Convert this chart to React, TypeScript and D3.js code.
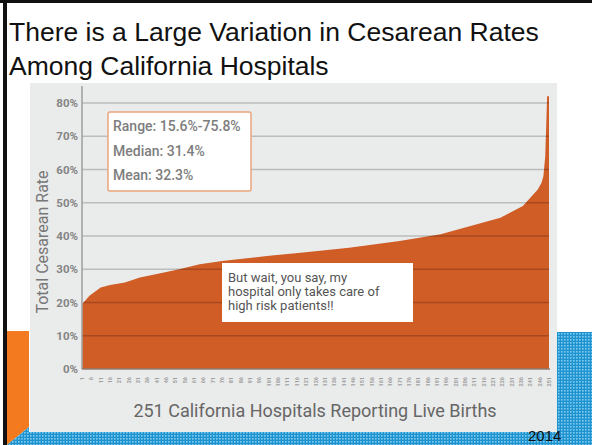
import React from "react";
import * as d3 from "d3";

const hospitalIndex = [1, 5, 11, 16, 24, 32, 43, 53, 64, 76, 100, 118, 144, 171, 193, 209, 225, 237, 241, 245, 247, 248, 249, 250, 251];
const cesareanRate = [19.5, 22, 24.5, 25.3, 26, 27.5, 28.8, 30, 31.5, 32.5, 34, 35, 36.5, 38.5, 40.5, 43, 45.5, 49, 51.5, 54, 56, 58, 64, 82, 82];

const yTicks = [0, 10, 20, 30, 40, 50, 60, 70, 80];
const xTickLabels = d3.range(1, 252, 5).map(String);

const titleLines = ["There is a Large Variation in Cesarean Rates", "Among California Hospitals"];
const statsLines = ["Range: 15.6%-75.8%", "Median: 31.4%", "Mean: 32.3%"];
const noteLines = ["But wait, you say, my", "hospital only takes care of", "high risk patients!!"];
const xTitle = "251 California Hospitals Reporting Live Births";
const yTitle = "Total Cesarean Rate";
const yearLabel = "2014";

export default function App() {
  const W = 592;
  const H = 445;
  const x = d3.scaleLinear().domain([1, 251]).range([82, 549]);
  const y = d3.scaleLinear().domain([0, 80]).range([369, 103]);
  const pts = hospitalIndex.map((h, i) => ({ h, v: cesareanRate[i] }));
  const area = d3
    .area<{ h: number; v: number }>()
    .x((d) => x(d.h))
    .y0(y(0))
    .y1((d) => y(d.v));

  return (
    <svg
      width={W}
      height={H}
      style={{ position: "absolute", left: 0, top: 0, display: "block" }}
      xmlns="http://www.w3.org/2000/svg"
    >
      <defs>
        <pattern id="dots" width="3" height="3" patternUnits="userSpaceOnUse">
          <rect width="3" height="3" fill="#1f93cf" />
          <rect width="1.6" height="1.6" fill="#7fcaef" />
        </pattern>
      </defs>
      <rect width={W} height={H} fill="#ffffff" />
      {/* slide frame */}
      <rect x={0} y={0} width={W} height={3} fill="#111" />
      <rect x={3} y={0} width={4} height={H} fill="#111" />
      {/* decorative shapes */}
      <polygon points="7,331 29,331 29,427 7,445" fill="#f47a20" />
      <polygon points="7,445 29,427 29,432 557,432 557,332 592,332 592,445" fill="url(#dots)" />
      {/* gray chart panel */}
      <rect x={30} y={83} width={527} height={349} fill="#eaebeb" />

      {/* title */}
      <text fontFamily="'Liberation Sans', Arial, sans-serif" fontSize={26.5} fill="#111">
        {titleLines.map((t, i) => (
          <tspan key={i} x={9} y={41 + i * 34}>
            {t}
          </tspan>
        ))}
      </text>

      {/* area */}
      <path d={area(pts) || ""} fill="#d05c26" />

      {/* gridlines */}
      {yTicks
        .filter((t) => t > 0)
        .map((t) => (
          <line key={t} x1={82} x2={549} y1={y(t)} y2={y(t)} stroke="#000" strokeOpacity={0.2} strokeWidth={1.6} />
        ))}

      {/* axes */}
      <line x1={82} x2={82} y1={86} y2={y(0)} stroke="#a3a3a3" strokeWidth={1.6} />
      <line x1={82} x2={550} y1={y(0)} y2={y(0)} stroke="#8e7c72" strokeWidth={1.6} />

      {/* y tick labels */}
      {yTicks.map((t) => (
        <text
          key={t}
          x={78}
          y={y(t)}
          dy="0.35em"
          textAnchor="end"
          fontFamily="Roboto, sans-serif"
          fontWeight={700}
          fontSize={11.5}
          fill="#858585"
        >
          {t}%
        </text>
      ))}

      {/* x tick labels (tiny) */}
      {xTickLabels.map((lab) => {
        const px = x(+lab);
        return (
          <text
            key={lab}
            transform={`translate(${px + 2},377) rotate(-90)`}
            textAnchor="end"
            fontFamily="Roboto, sans-serif"
            fontWeight={700}
            fontSize={5.5}
            fill="#a0a0a0"
          >
            {lab}
          </text>
        );
      })}

      {/* axis titles */}
      <text
        transform="translate(48,242) rotate(-90)"
        textAnchor="middle"
        fontFamily="Roboto, sans-serif"
        fontSize={16}
        fill="#777"
      >
        {yTitle}
      </text>
      <text x={315} y={417} textAnchor="middle" fontFamily="Roboto, sans-serif" fontSize={18} fill="#666">
        {xTitle}
      </text>

      {/* stats box */}
      <rect x={108} y={112} width={143} height={79} rx={2} fill="#fff" stroke="#eaa57e" strokeWidth={1.5} />
      {statsLines.map((t, i) => (
        <text
          key={i}
          x={113}
          y={131 + i * 24.5}
          fontFamily="Roboto, sans-serif"
          fontWeight={500}
          fontSize={14}
          fill="#7d7d7d"
        >
          {t}
        </text>
      ))}

      {/* note box */}
      <rect x={222} y={263} width={191} height={59} fill="#fff" />
      {noteLines.map((t, i) => (
        <text key={i} x={228} y={282 + i * 14} fontFamily="Roboto, sans-serif" fontSize={13} fill="#555">
          {t}
        </text>
      ))}

      {/* year */}
      <text x={528} y={441} fontFamily="'Liberation Sans', Arial, sans-serif" fontSize={15} fill="#111">
        {yearLabel}
      </text>
    </svg>
  );
}
